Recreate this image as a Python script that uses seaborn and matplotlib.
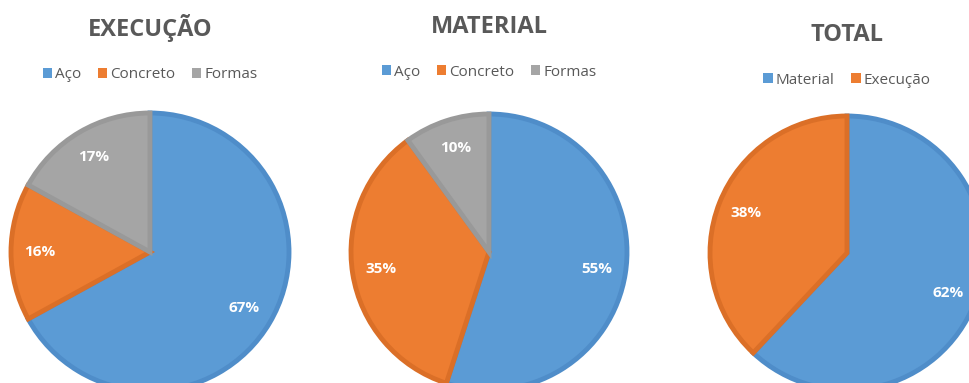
import matplotlib
matplotlib.use("Agg")
import matplotlib.pyplot as plt
from matplotlib.patches import Patch
import seaborn as sns

# ---- data ----
exec_labels = ["Aço", "Concreto", "Formas"]
exec_values = [67, 16, 17]
mat_labels = ["Aço", "Concreto", "Formas"]
mat_values = [55, 35, 10]
total_labels = ["Material", "Execução"]
total_values = [62, 38]
titles = ["EXECUÇÃO", "MATERIAL", "TOTAL"]

sns.set_theme(style="white")
plt.rcParams["font.family"] = ["Open Sans", "DejaVu Sans"]

fills = ["#5B9BD5", "#ED7D31", "#A5A5A5"]
edges = ["#4F8DC9", "#DB6F27", "#999999"]
TXT = "#595959"

W, H = 970, 383
fig = plt.figure(figsize=(W / 100, H / 100), dpi=100)
ax = fig.add_axes([0, 0, 1, 1])
ax.set_xlim(0, W)
ax.set_ylim(0, H)
ax.set_axis_off()

# layout: (center x px, center y px from top, radius, title y, legend y)
layouts = [
    (150, 252, 139, 28, 75),
    (489, 252, 138, 27, 72),
    (847, 253, 137, 35, 80),
]
datasets = [
    (exec_labels, exec_values),
    (mat_labels, mat_values),
    (total_labels, total_values),
]

for (labels, values), (cx, cy, r, ty, ly), title in zip(datasets, layouts, titles):
    n = len(values)
    wedges, texts = ax.pie(
        values,
        colors=fills[:n],
        startangle=90,
        counterclock=False,
        center=(cx, H - cy),
        radius=r,
        labels=[f"{v}%" for v in values],
        labeldistance=0.79,
        frame=True,
        wedgeprops=dict(linewidth=3.5, edgecolor="none"),
        textprops=dict(color="white", fontsize=11, fontweight="bold"),
    )
    for t in texts:
        t.set_ha("center")
        t.set_va("center")
    for w, ec in zip(wedges, edges[:n]):
        w.set_edgecolor(ec)
        w.set_joinstyle("miter")
        w.set_clip_on(False)
    fig.text(cx / W, 1 - ty / H, title, ha="center", va="center",
             fontsize=17, fontweight="bold", color=TXT)
    handles = [Patch(facecolor=fills[i], edgecolor="none") for i in range(n)]
    fig.legend(handles, labels, loc="center", bbox_to_anchor=(cx / W, 1 - ly / H),
               ncol=n, frameon=False, fontsize=11, labelcolor=TXT,
               handlelength=0.6, handleheight=0.6, handletextpad=0.2,
               columnspacing=1.1, borderpad=0)

ax.set_xlim(0, W)
ax.set_ylim(0, H)
ax.set_aspect("auto")
fig.savefig("out.png", dpi=100, facecolor="white")
